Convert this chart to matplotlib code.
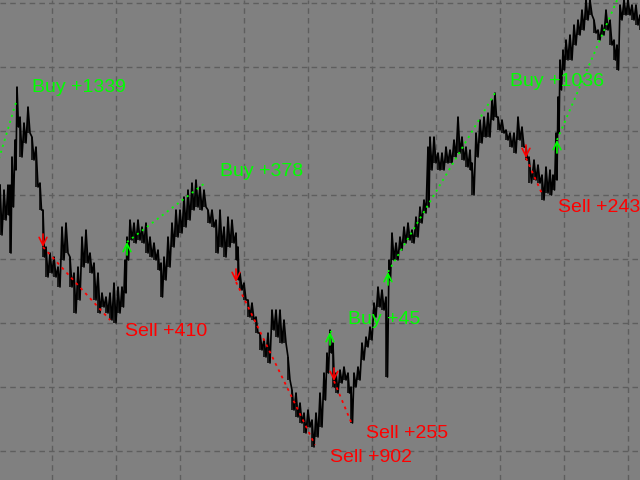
import numpy as np
import matplotlib
matplotlib.use("Agg")
import matplotlib.pyplot as plt

# price range per sample (chart units, larger = lower on screen)
bar_x = [0, 4, 8, 10, 12, 15, 17, 20, 24, 28, 32, 36, 40, 43, 46, 50, 54, 58, 62, 66,
         70, 74, 78, 82, 86, 90, 94, 98, 102, 106, 110, 114, 118, 122, 125, 127, 130, 134, 138, 142,
         146, 150, 154, 158, 161, 164, 168, 172, 176, 180, 184, 188, 192, 196, 200, 204, 208, 212, 216, 220,
         224, 228, 232, 236, 238, 240, 244, 248, 252, 256, 260, 264, 268, 272, 276, 280, 284, 288, 292, 296,
         300, 304, 308, 312, 316, 320, 324, 327, 330, 333, 336, 340, 344, 348, 351, 354, 358, 362, 366, 370,
         374, 378, 382, 386, 389, 392, 396, 400, 404, 408, 412, 416, 420, 424, 428, 430, 434, 438, 442, 446,
         450, 454, 458, 462, 466, 470, 472, 476, 480, 484, 488, 492, 495, 498, 502, 506, 510, 514, 518, 522,
         526, 529, 534, 538, 542, 546, 550, 553, 556, 558, 560, 563, 566, 570, 574, 578, 582, 586, 590, 594,
         598, 602, 606, 610, 614, 617, 620, 624, 628, 632, 636, 640]
bar_top = [185, 190, 185, 185, 157, 140, 87, 117, 123, 107, 137, 147, 183, 210, 247, 253, 257, 267, 227, 223,
           257, 273, 267, 237, 230, 253, 263, 273, 293, 297, 293, 283, 287, 287, 260, 237, 220, 223, 220, 227,
           223, 237, 243, 250, 263, 257, 237, 223, 210, 210, 197, 190, 183, 180, 187, 190, 210, 210, 220, 210,
           227, 217, 220, 233, 247, 273, 283, 300, 303, 317, 333, 340, 333, 310, 310, 310, 320, 357, 390, 393,
           403, 413, 410, 420, 413, 393, 373, 353, 330, 343, 373, 370, 367, 373, 387, 373, 367, 343, 337, 327,
           303, 287, 290, 297, 260, 233, 243, 237, 227, 223, 230, 217, 207, 200, 147, 137, 137, 153, 153, 147,
           150, 140, 117, 137, 147, 150, 163, 133, 120, 117, 113, 100, 93, 117, 120, 130, 133, 133, 117, 127,
           147, 157, 160, 165, 175, 167, 170, 175, 133, 97, 60, 50, 40, 35, 25, 20, 10, 0, 0, 20,
           30, 25, 10, 20, 40, 45, 5, 0, 0, 5, 5, 15]
bar_bot = [235, 220, 215, 253, 207, 170, 127, 157, 143, 133, 160, 187, 210, 257, 277, 273, 277, 287, 260, 253,
           287, 313, 300, 267, 263, 273, 300, 313, 307, 313, 320, 323, 313, 307, 293, 260, 240, 243, 240, 243,
           253, 257, 260, 270, 297, 280, 267, 247, 237, 233, 227, 220, 210, 207, 210, 207, 223, 227, 253, 247,
           257, 247, 243, 260, 280, 290, 300, 317, 320, 333, 350, 357, 363, 330, 337, 343, 343, 380, 410, 417,
           423, 433, 427, 447, 437, 427, 400, 373, 353, 387, 393, 383, 380, 393, 423, 387, 380, 360, 347, 340,
           317, 307, 310, 377, 280, 260, 260, 250, 243, 240, 243, 237, 223, 213, 207, 170, 163, 170, 170, 163,
           163, 157, 153, 160, 167, 170, 195, 157, 143, 137, 137, 120, 117, 130, 133, 140, 147, 153, 140, 147,
           160, 183, 180, 183, 200, 193, 195, 190, 180, 133, 90, 70, 60, 60, 45, 35, 30, 20, 15, 33,
           40, 35, 30, 45, 60, 70, 20, 15, 15, 20, 25, 30]

# trades: side, open (x, price), close (x, price), result label
trade_side = ["buy", "sell", "buy", "sell", "buy", "sell", "buy", "sell", "buy"]
open_x = [-5, 43, 127, 236, 330, 334, 388, 526, 557]
open_p = [172, 247, 242, 282, 332, 381, 272, 158, 140]
close_x = [17, 110, 205, 315, 333, 351, 495, 543, 660]
close_p = [99, 320, 183, 445, 331, 422, 93, 196, -100]
trade_text = ["Buy +1339", "Sell +410", "Buy +378", "Sell +902", "Buy +45",
              "Sell +255", "Buy +1036", "Sell +243", ""]

plt.rcParams['lines.scale_dashes'] = False
fig = plt.figure(figsize=(6.4, 4.8), dpi=100)
fig.patch.set_facecolor('#808080')
ax = fig.add_axes([0, 0, 1, 1])
ax.set_facecolor('#808080')
ax.set_xlim(0, 640)
ax.set_ylim(480, 0)
ax.set_xticks(np.arange(52, 640, 64))
ax.set_yticks(np.arange(3, 480, 64))
ax.grid(True, color='#5e5e5e', ls=(0, (4, 3)), lw=1.0)
ax.tick_params(length=0, labelbottom=False, labelleft=False)
for s in ax.spines.values():
    s.set_visible(False)

# zig-zag price path through highs and lows
bx = np.array(bar_x, float)
step = np.diff(bx, append=bx[-1] + 4)
px = np.column_stack([bx, bx + step / 2]).ravel()
py = np.column_stack([bar_top, bar_bot]).ravel()
ax.plot(px, py, color='black', lw=1.2, zorder=2)
ax.vlines(bx, bar_top, bar_bot, color='black', lw=1.1, zorder=2)

for side, ox, op, cx, cp, txt in zip(trade_side, open_x, open_p, close_x, close_p, trade_text):
    col = '#00ff00' if side == 'buy' else '#ff0000'
    ls = (0, (1.5, 3)) if side == 'buy' else (0, (2, 3))
    ax.plot([ox, cx], [op, cp], color=col, lw=1.3, ls=ls, zorder=3)
    if ox > 0:
        d = 13 if side == 'buy' else -13
        ax.annotate('', xy=(ox, op), xytext=(ox, op + d),
                    arrowprops=dict(arrowstyle='->', color=col, lw=1.2,
                                    shrinkA=0, shrinkB=0, mutation_scale=14),
                    zorder=4)
    if txt:
        dy = 11 if side == 'buy' else -12
        ax.annotate(txt, xy=(cx, cp), xytext=(15, dy), textcoords='offset pixels',
                    color=col, fontsize=14, family='Liberation Sans',
                    ha='left', va='center', zorder=5)

fig.savefig('out.png', dpi=100, facecolor=fig.get_facecolor())
